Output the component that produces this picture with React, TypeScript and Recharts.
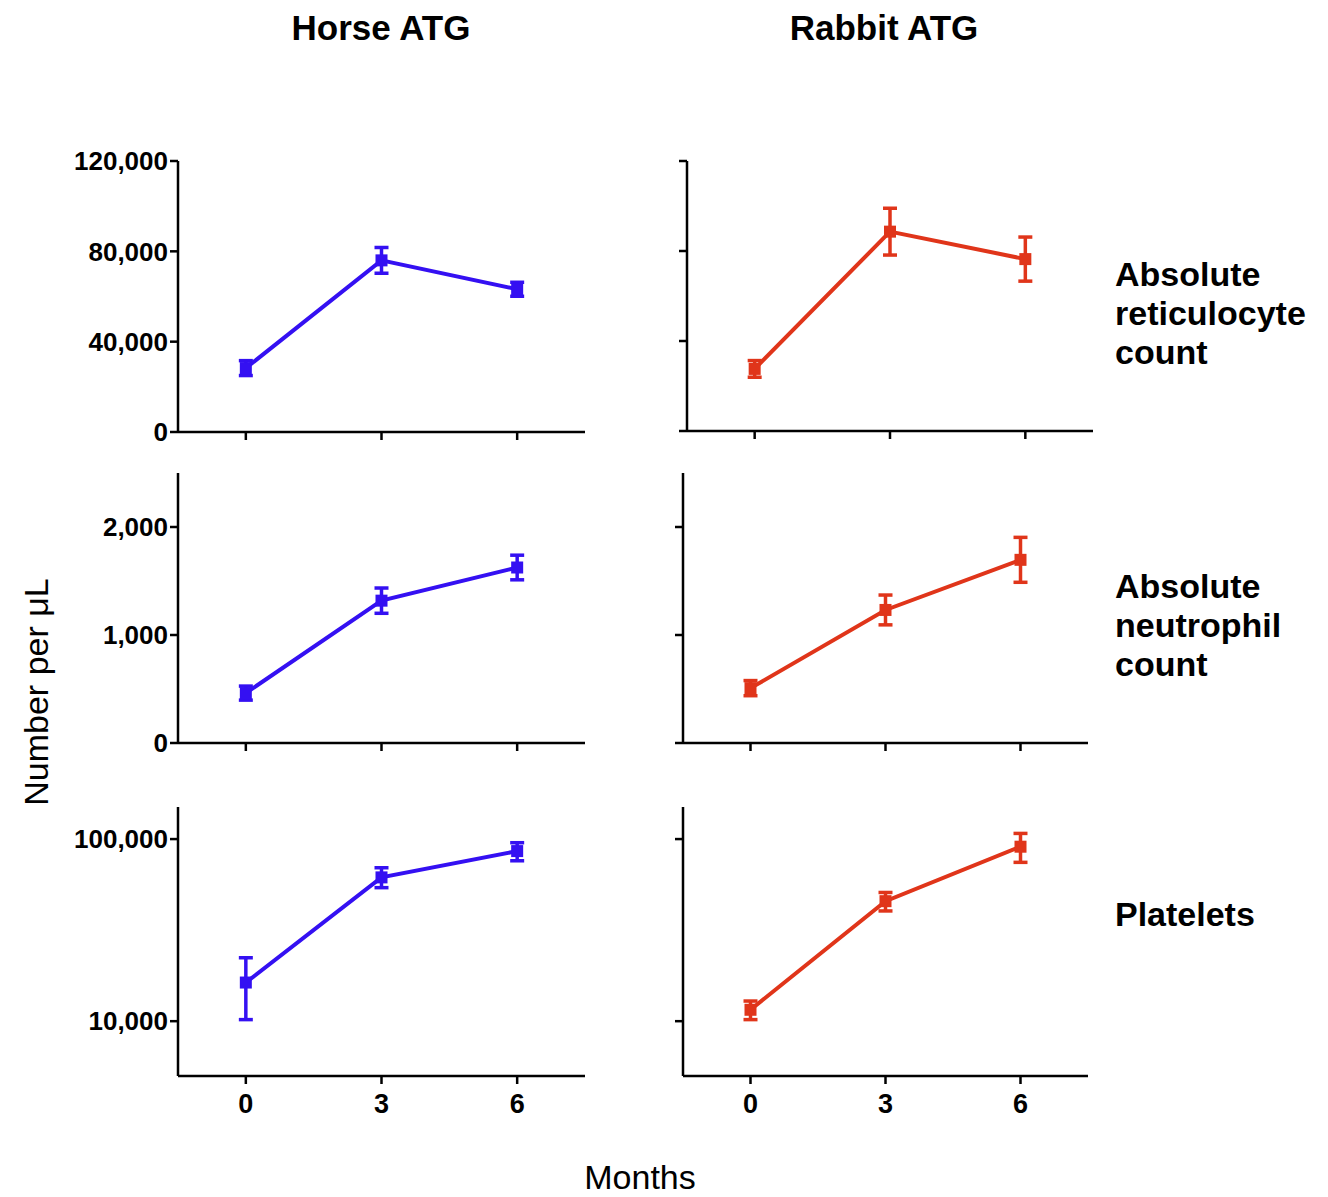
import React from 'react';
import { LineChart, Line, XAxis, YAxis, ErrorBar } from 'recharts';

// ---- data ----
const months = [0, 3, 6];
const monthTicks = [0, 3, 6];

const horseRetic = [28300, 76000, 63200];
const horseReticErr = [3300, 5700, 3100];
const rabbitRetic = [27600, 88600, 76400];
const rabbitReticErr = [3700, 10400, 9800];

const horseNeut = [462, 1318, 1625];
const horseNeutErr = [65, 117, 114];
const rabbitNeut = [508, 1232, 1696];
const rabbitNeutErr = [70, 138, 208];

const horsePlt = [16300, 61600, 85900];
const horsePltLow = [10200, 54100, 76000];
const horsePltHigh = [22300, 69600, 95500];
const rabbitPlt = [11550, 45600, 90800];
const rabbitPltLow = [10200, 40300, 74500];
const rabbitPltHigh = [12900, 50900, 107400];

const reticTicks = [0, 40000, 80000, 120000];
const neutTicks = [0, 1000, 2000];
const pltTicks = [10000, 100000];

const columnTitles = ['Horse ATG', 'Rabbit ATG'];
const rowLabels = [
  ['Absolute', 'reticulocyte', 'count'],
  ['Absolute', 'neutrophil', 'count'],
  ['Platelets'],
];

const BLUE = '#3410F2';
const RED = '#E0351A';
const FONT = '"Liberation Sans", Arial, Helvetica, sans-serif';

const symData = (vals: number[], errs: number[]) =>
  months.map((m, i) => ({ month: m, value: vals[i], err: [errs[i], errs[i]] }));
const asymData = (vals: number[], low: number[], high: number[]) =>
  months.map((m, i) => ({ month: m, value: vals[i], err: [vals[i] - low[i], high[i] - vals[i]] }));

type PanelProps = {
  left: number; top: number; right: number; bottom: number;
  color: string; data: any[]; domain: [number, number]; ticks: number[];
  log?: boolean; yLabels: boolean; xLabels: boolean;
};

const PADL = 110, PADT = 20, PADR = 20, PADB = 50;

function Panel(p: PanelProps) {
  const w = p.right - p.left + PADL + PADR;
  const h = p.bottom - p.top + PADT + PADB;
  const axisStyle = { stroke: '#000', strokeWidth: 2.5 };
  return (
    <div style={{ position: 'absolute', left: p.left - PADL, top: p.top - PADT, width: w, height: h }}>
      <LineChart width={w} height={h} data={p.data} margin={{ top: PADT, right: PADR, left: 0, bottom: 0 }}>
        <XAxis
          dataKey="month" type="number" domain={[-1.5, 7.5]} ticks={monthTicks} allowDataOverflow
          height={PADB} axisLine={axisStyle} tickLine={axisStyle} tickSize={8} tickMargin={10}
          tick={{ fill: '#000', fontSize: 27, fontWeight: 'bold', fontFamily: FONT }}
          tickFormatter={(v: number) => (p.xLabels ? String(v) : '')}
        />
        <YAxis
          type="number" domain={p.domain} ticks={p.ticks} scale={p.log ? 'log' : 'linear'} allowDataOverflow
          width={PADL} axisLine={axisStyle} tickLine={axisStyle} tickSize={8} tickMargin={2}
          tick={{ fill: '#000', fontSize: 26, fontWeight: 'bold', fontFamily: FONT }}
          tickFormatter={(v: number) => (p.yLabels ? v.toLocaleString('en-US') : '')}
        />
        <Line
          dataKey="value" stroke={p.color} strokeWidth={4} isAnimationActive={false}
          dot={(d: any) => (
            <rect key={'d' + d.index} x={d.cx - 6} y={d.cy - 6} width={12} height={12} fill={p.color} />
          )}
          activeDot={false}
        >
          <ErrorBar dataKey="err" direction="y" width={7} strokeWidth={3.5} stroke={p.color} isAnimationActive={false} />
        </Line>
      </LineChart>
    </div>
  );
}

export default function App() {
  const txt = { fontFamily: FONT, fill: '#000' };
  return (
    <div style={{ position: 'absolute', left: 0, top: 0, width: 1328, height: 1197, background: '#fff', overflow: 'hidden' }}>
      <svg width={1328} height={1197} style={{ position: 'absolute', left: 0, top: 0 }}>
        <text x={381} y={40} textAnchor="middle" fontSize={35} fontWeight="bold" {...txt}>{columnTitles[0]}</text>
        <text x={884} y={40} textAnchor="middle" fontSize={35} fontWeight="bold" {...txt}>{columnTitles[1]}</text>
        {rowLabels[0].map((s, i) => (
          <text key={'r0' + i} x={1115} y={286 + i * 39} fontSize={34} fontWeight="bold" {...txt}>{s}</text>
        ))}
        {rowLabels[1].map((s, i) => (
          <text key={'r1' + i} x={1115} y={598 + i * 39} fontSize={34} fontWeight="bold" {...txt}>{s}</text>
        ))}
        <text x={1115} y={926} fontSize={34} fontWeight="bold" {...txt}>{rowLabels[2][0]}</text>
        <text x={48} y={692} textAnchor="middle" fontSize={34} transform="rotate(-90 48 692)" {...txt}>Number per μL</text>
        <text x={640} y={1189} textAnchor="middle" fontSize={34} {...txt}>Months</text>
      </svg>

      <Panel left={178} top={161} right={585} bottom={432} color={BLUE}
        data={symData(horseRetic, horseReticErr)} domain={[0, 120000]} ticks={reticTicks} yLabels xLabels={false} />
      <Panel left={687} top={161} right={1093} bottom={431} color={RED}
        data={symData(rabbitRetic, rabbitReticErr)} domain={[0, 120000]} ticks={reticTicks} yLabels={false} xLabels={false} />

      <Panel left={178} top={473} right={585} bottom={743} color={BLUE}
        data={symData(horseNeut, horseNeutErr)} domain={[0, 2500]} ticks={neutTicks} yLabels xLabels={false} />
      <Panel left={683} top={473} right={1088} bottom={743} color={RED}
        data={symData(rabbitNeut, rabbitNeutErr)} domain={[0, 2500]} ticks={neutTicks} yLabels={false} xLabels={false} />

      <Panel left={178} top={807} right={585} bottom={1076} color={BLUE}
        data={asymData(horsePlt, horsePltLow, horsePltHigh)} domain={[5000, 150000]} ticks={pltTicks} log yLabels xLabels />
      <Panel left={683} top={807} right={1088} bottom={1076} color={RED}
        data={asymData(rabbitPlt, rabbitPltLow, rabbitPltHigh)} domain={[5000, 150000]} ticks={pltTicks} log yLabels={false} xLabels />
    </div>
  );
}
